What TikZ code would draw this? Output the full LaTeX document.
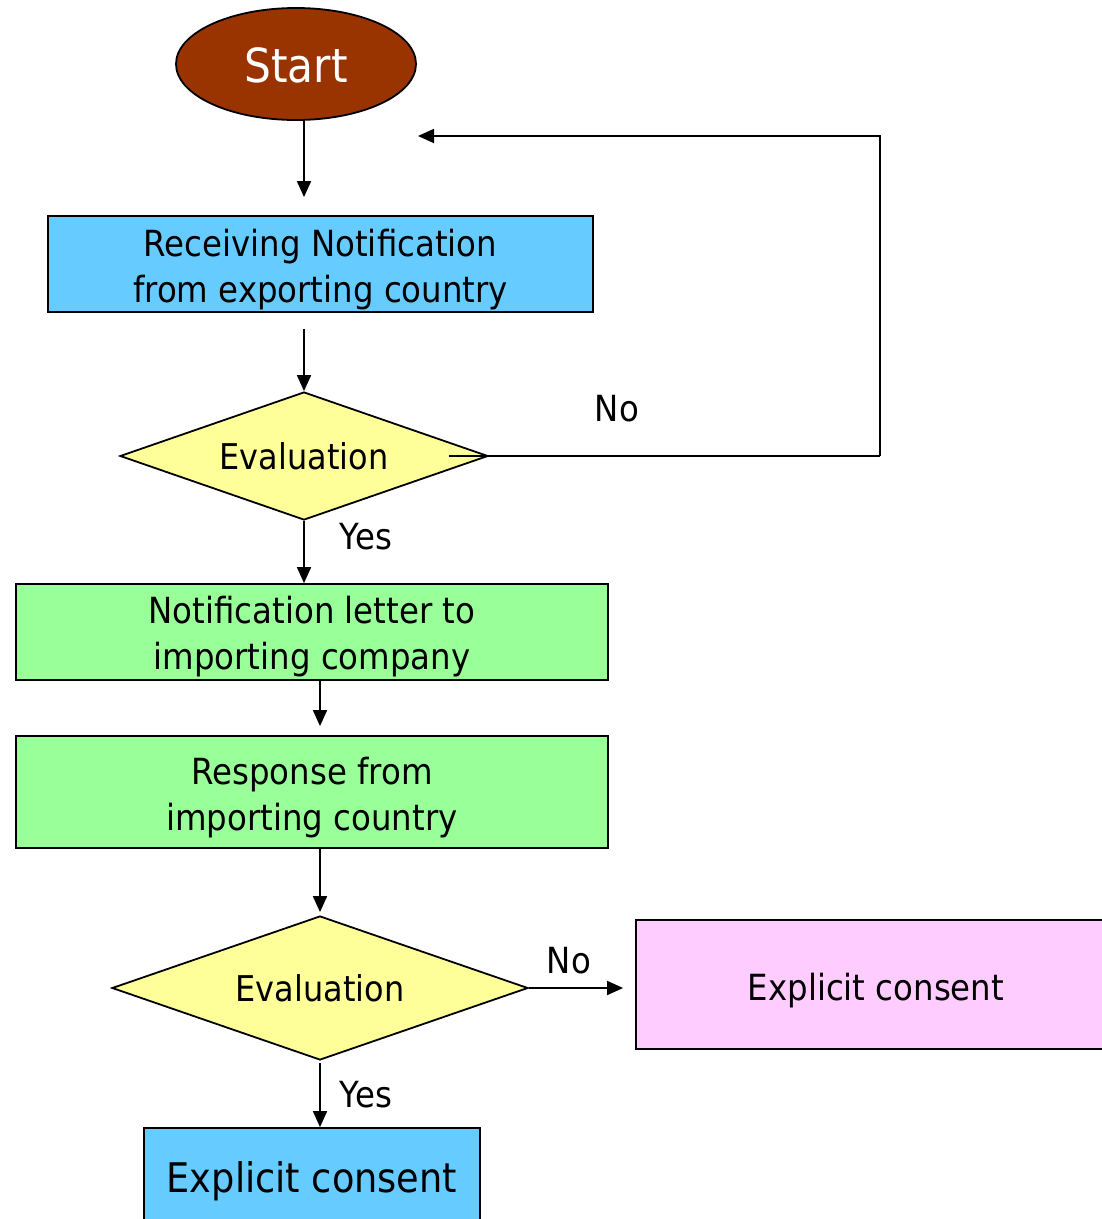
\documentclass[tikz,border=0pt]{standalone}
\usepackage{fontspec}
\setmainfont{DejaVu Sans}[FakeStretch=0.9]
\usetikzlibrary{shapes.geometric,arrows.meta}
\definecolor{startbrown}{HTML}{993300}
\definecolor{boxblue}{HTML}{66CCFF}
\definecolor{boxgreen}{HTML}{99FF99}
\definecolor{diayellow}{HTML}{FFFF99}
\definecolor{boxpink}{HTML}{FFCCFF}
\newcommand{\lowstrut}[1]{\rule{0pt}{#1}}
\tikzset{
  procbox/.style={draw=black, line width=1.8pt, inner sep=0pt, align=center,
    font=\fontsize{36}{46}\selectfont},
  lower/.style={execute at begin node={\rule{0pt}{#1}}},
  decision/.style={diamond, draw=black, line width=1.8pt, inner sep=0pt,
    fill=diayellow, font=\fontsize{35.5}{46}\selectfont},
  lbl/.style={font=\fontsize{36}{40}\selectfont, inner sep=0pt},
  arr/.style={line width=1.8pt, -{Triangle[length=16pt,width=14pt]}},
  plain/.style={line width=1.8pt}
}
\begin{document}
\begin{tikzpicture}[x=1pt,y=-1pt]
\useasboundingbox (0,0) rectangle (1102,1219);
\clip (0,0) rectangle (1102,1219);

\node[ellipse, draw=black, line width=1.8pt, fill=startbrown, text=white,
  minimum width=240pt, minimum height=112pt, inner sep=0pt, lower=38pt,
  font=\fontsize{47}{50}\selectfont] (start) at (296,64) {Start};

\node[procbox, fill=boxblue, minimum width=545pt, minimum height=96pt]
  (recv) at (320.5,264) {\lowstrut{37.5pt}Receiving Notification\\from exporting country};

\node[decision, aspect=2.875, minimum width=368pt, minimum height=128pt] (eval1) at (304,456) {Evaluation};

\node[procbox, fill=boxgreen, minimum width=592pt, minimum height=96pt]
  (letter) at (312,632) {\lowstrut{36pt}Notification letter to\\importing company};

\node[procbox, fill=boxgreen, minimum width=592pt, minimum height=112pt]
  (resp) at (312,792) {\lowstrut{37.5pt}Response from\\importing country};

\node[decision, aspect=2.889, minimum width=416pt, minimum height=144pt] (eval2) at (320,988) {Evaluation};

\node[procbox, fill=boxpink, minimum width=480pt, minimum height=129pt, lower=39.5pt]
  (pink) at (876,984.5) {Explicit consent};

\node[procbox, fill=boxblue, minimum width=336pt, minimum height=100pt, lower=37pt,
  font=\fontsize{40.8}{46}\selectfont] (final) at (312,1178) {Explicit consent};

\coordinate (loopR) at (880,456);
\coordinate (loopT) at (418,136);

\node[lbl] (no1) at (617,409) {No};
\node[lbl] (yes1) at (366,537) {Yes};
\node[lbl] (no2) at (569,961) {No};
\node[lbl] (yes2) at (366,1095) {Yes};

\draw[arr, shorten >=18pt] (start.south -| eval1.north) -- (recv.north -| eval1.north);
\draw[arr, shorten <=16pt] (recv.south -| eval1.north) -- (eval1.north);
\draw[plain] ([xshift=-40pt]eval1.east) -- (loopR);
\draw[arr] (loopR) |- (loopT);
\draw[arr] (eval1.south) -- (letter.north -| eval1.south);
\draw[arr, shorten >=9pt] (letter.south -| eval2.north) -- (resp.north -| eval2.north);
\draw[arr, shorten >=3pt] (resp.south -| eval2.north) -- (eval2.north);
\draw[arr, shorten >=12pt] (eval2.east) -- (eval2.east -| pink.west);
\draw[arr, shorten <=2pt] (eval2.south) -- (final.north -| eval2.south);
\end{tikzpicture}
\end{document}
